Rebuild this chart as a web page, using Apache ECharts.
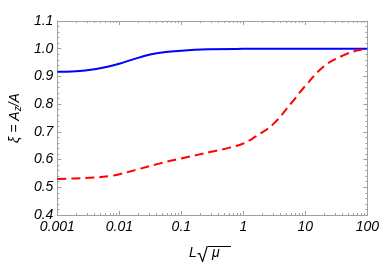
<!DOCTYPE html>
<html><head><meta charset="utf-8">
<script src="https://cdn.jsdelivr.net/npm/echarts@6/dist/echarts.min.js"></script>
<style>html,body{margin:0;padding:0;background:#fff}#c{width:382px;height:274px}</style>
</head><body><div id="c"></div>
<script>
const xTicks = [0.001, 0.01, 0.1, 1, 10, 100];
const xTickLabels = ['0.001', '0.01', '0.1', '1', '10', '100'];
const xMinorTicks = [];
[0.001, 0.01, 0.1, 1, 10].forEach(d => { for (let k = 2; k <= 9; k++) xMinorTicks.push(+(d * k).toPrecision(3)); });
const yTickLabels = ['0.4', '0.5', '0.6', '0.7', '0.8', '0.9', '1.0', '1.1'];

const blueX = [0.001, 0.002, 0.004, 0.007, 0.01, 0.02, 0.04, 0.1, 0.3, 1, 10, 100];
const blueY = [0.917, 0.919, 0.926, 0.937, 0.946, 0.967, 0.984, 0.993, 0.998, 0.9995, 1.0, 1.0];
const redX = [0.001, 0.002, 0.004, 0.007, 0.01, 0.02, 0.05, 0.1, 0.3, 0.6, 1, 1.5, 3, 6, 10, 20, 40, 70, 100];
const redY = [0.530, 0.532, 0.535, 0.541, 0.547, 0.565, 0.589, 0.604, 0.628, 0.643, 0.658, 0.680, 0.727, 0.805, 0.866, 0.937, 0.975, 0.994, 1.0];

const grey = '#a0a0a0';
const font = 'Liberation Sans';
const chart = echarts.init(document.getElementById('c'), null, {renderer: 'canvas'});
const mkX = (pos, main, showLabel) => ({
  type: 'log', logBase: 10, min: 0.001, max: 100, position: pos, gridIndex: 0,
  axisLine: {show: main, lineStyle: {color: grey, width: 1}},
  axisTick: main ? {show: true, inside: true, length: 4, lineStyle: {color: grey}}
                 : {show: true, inside: true, length: 2, customValues: xMinorTicks, lineStyle: {color: grey}},
  axisLabel: {show: showLabel, margin: 5, fontFamily: font, fontStyle: 'italic', fontSize: 14, color: '#000',
    formatter: v => { const i = xTicks.findIndex(t => Math.abs(Math.log10(t) - Math.log10(v)) < 1e-6); return i >= 0 ? xTickLabels[i] : ''; }},
  splitLine: {show: false}, minorTick: {show: false}
});
const mkY = (pos, showLabel) => ({
  type: 'value', min: 0.4, max: 1.1, interval: 0.1, position: pos, gridIndex: 0,
  axisLine: {show: true, lineStyle: {color: grey, width: 1}},
  axisTick: {show: true, inside: true, length: 4, lineStyle: {color: grey}},
  minorTick: {show: true, splitNumber: 5, length: 2, lineStyle: {color: grey}},
  axisLabel: {show: showLabel, margin: 4, fontFamily: font, fontStyle: 'italic', fontSize: 14, color: '#000',
    formatter: v => yTickLabels[Math.round((v - 0.4) * 10)]},
  splitLine: {show: false}
});
const ya0 = mkY('left', true);
ya0.name = '{t|ξ = A}{s|z}{t|/A}';
ya0.nameLocation = 'middle';
ya0.nameRotate = 90;
ya0.nameGap = 30;
ya0.nameTextStyle = {rich: {t: {fontFamily: font, fontStyle: 'italic', fontSize: 14, color: '#000'}, s: {fontFamily: font, fontStyle: 'italic', fontSize: 10, color: '#000', padding: [6, 0, 0, 0]}}};

chart.setOption({
  animation: false,
  grid: {left: 52, right: 14, top: 21, bottom: 59, containLabel: false},
  xAxis: [mkX('bottom', true, true), mkX('bottom', false, false), mkX('top', true, false), mkX('top', false, false)],
  yAxis: [ya0, mkY('right', false)],
  graphic: [
    {type: 'text', style: {x: 189, y: 253, verticalAlign: 'middle', text: 'L', fontFamily: font, fontStyle: 'italic', fontSize: 14, fill: '#000'}},
    {type: 'text', style: {x: 197, y: 256, verticalAlign: 'middle', text: '√', fontFamily: font, fontSize: 20, fill: '#000'}},
    {type: 'text', style: {x: 212, y: 253, verticalAlign: 'middle', text: 'μ', fontFamily: font, fontStyle: 'italic', fontSize: 14, fill: '#000'}},
    {type: 'line', shape: {x1: 208, y1: 246.5, x2: 231, y2: 246.5}, style: {stroke: '#000', lineWidth: 1}}
  ],
  series: [
    {type: 'line', xAxisIndex: 0, yAxisIndex: 0, data: blueX.map((x, i) => [x, blueY[i]]), smooth: 0.5, showSymbol: false,
     lineStyle: {color: '#0000ff', width: 2}, z: 3},
    {type: 'line', xAxisIndex: 0, yAxisIndex: 0, data: redX.map((x, i) => [x, redY[i]]), smooth: 0.4, showSymbol: false,
     lineStyle: {color: '#ff0000', width: 2, type: [9, 5]}, z: 4}
  ]
});
</script></body></html>
